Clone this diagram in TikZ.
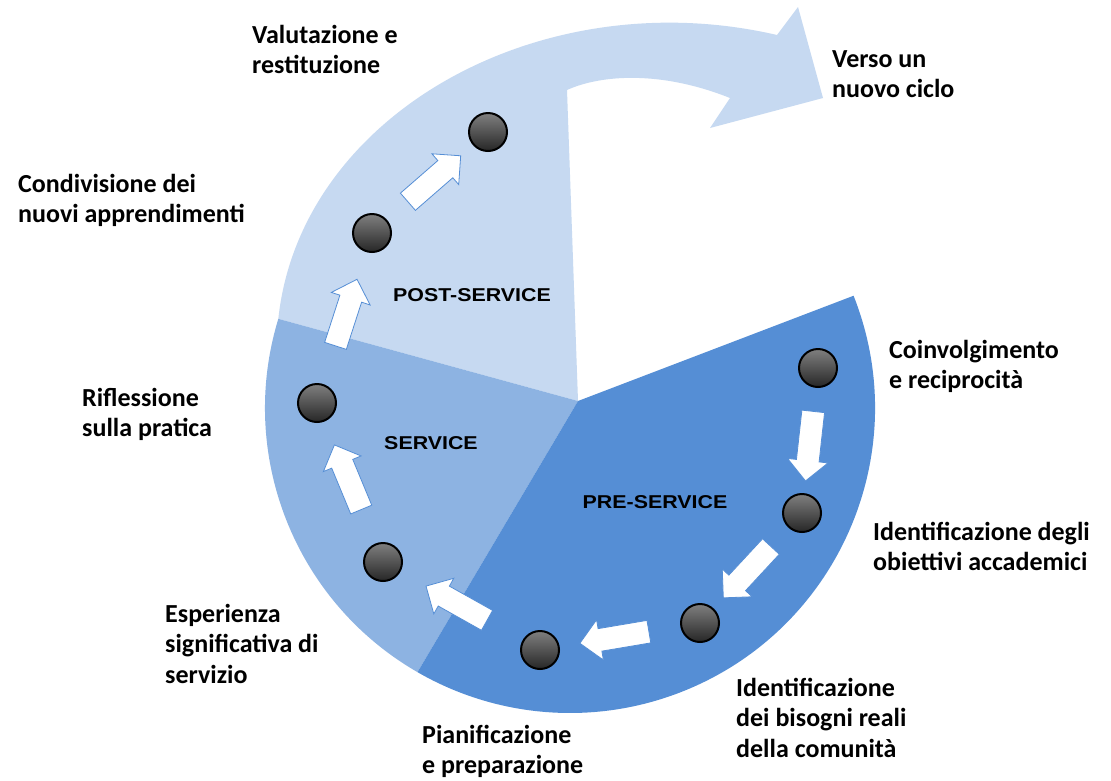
\documentclass[tikz,border=0pt]{standalone}
\usepackage{fontspec}
\setmainfont{Carlito}
\newfontfamily\phasefont[FakeStretch=1.15]{Liberation Sans}
\usetikzlibrary{shapes.arrows}
\definecolor{preblue}{RGB}{85,142,213}
\definecolor{svcblue}{RGB}{141,179,226}
\definecolor{postblue}{RGB}{198,217,241}

\begin{document}
\begin{tikzpicture}[x=1pt,y=-1pt]
\tikzstyle{every node}+=[inner sep=0pt]
\tikzstyle{ball}=[circle,minimum size=38pt,draw=black,line width=2pt,top color=black!50,middle color=black!25,bottom color=black!85]
\tikzstyle{blockarrow}=[single arrow,fill=white,draw=preblue,line width=0.8pt,inner ysep=11pt,single arrow head extend=9pt,minimum height=70pt,sloped,allow upside down]
\tikzstyle{steplabel}=[anchor=north west,align=left,font=\bfseries\fontsize{26}{30.5}\selectfont]
\tikzstyle{phaselabel}=[font=\phasefont\bfseries\fontsize{18.6}{20}\selectfont]
\path[use as bounding box,fill=white] (0,0) rectangle (1111,780);
\coordinate (O) at (570,408);
\coordinate (C) at (578,401);
\coordinate (rimL) at ([shift={(O)}]197:305);
\coordinate (rimB) at ([shift={(O)}]120:305);
\coordinate (rimR) at ([shift={(O)}]-21.6:305);
\fill[postblue] (C) -- (rimL) .. controls (300,115) and (540,-20) .. (777,35)
  -- (798,7) -- (823,98) -- (710,128) -- (730,98)
  .. controls (660,70) and (600,75) .. (567,90) -- cycle;
\fill[svcblue] (C) -- (rimB) arc[start angle=120,end angle=197,radius=305] -- cycle;
\fill[preblue] (C) -- (rimR) arc[start angle=-21.6,end angle=120,radius=305] -- cycle;
\node[ball] (b1) at (818,368) {};
\node[ball] (b2) at (802,513) {};
\node[ball] (b3) at (700,623) {};
\node[ball] (b4) at (540,650) {};
\node[ball] (b5) at (383,562) {};
\node[ball] (b6) at (317,403) {};
\node[ball] (b7) at (372,233) {};
\node[ball] (b8) at (488,132) {};
\path (b1) -- node[blockarrow] (a1) {} (b2);
\path (b2) -- node[blockarrow] (a2) {} (b3);
\path (b3) -- node[blockarrow] (a3) {} (b4);
\path (b4) -- node[blockarrow] (a4) {} (b5);
\path (b5) -- node[blockarrow] (a5) {} (b6);
\path (b6) -- node[blockarrow] (a6) {} (b7);
\path (b7) -- node[blockarrow] (a7) {} (b8);
\node[phaselabel] (post) at (472,295) {POST-SERVICE};
\node[phaselabel] (serv) at (431,443) {SERVICE};
\node[phaselabel] (pre) at (655,502) {PRE-SERVICE};
\node[steplabel] (valut) at (252,25) {Valutazione e\\restituzione};
\node[steplabel] (verso) at (832,50) {Verso un\\nuovo ciclo};
\node[steplabel] (condiv) at (18,174) {Condivisione dei\\nuovi apprendimenti};
\node[steplabel] (rifl) at (82,388) {Riflessione\\sulla pratica};
\node[steplabel] (esper) at (165,604) {Esperienza\\significativa di\\servizio};
\node[steplabel] (pianif) at (422,725) {Pianificazione\\e preparazione};
\node[steplabel] (bisogni) at (736,678) {Identificazione\\dei bisogni reali\\della comunità};
\node[steplabel] (obiett) at (873,522) {Identificazione degli\\obiettivi accademici};
\node[steplabel] (coinv) at (889,340) {Coinvolgimento\\e reciprocità};
\end{tikzpicture}
\end{document}
